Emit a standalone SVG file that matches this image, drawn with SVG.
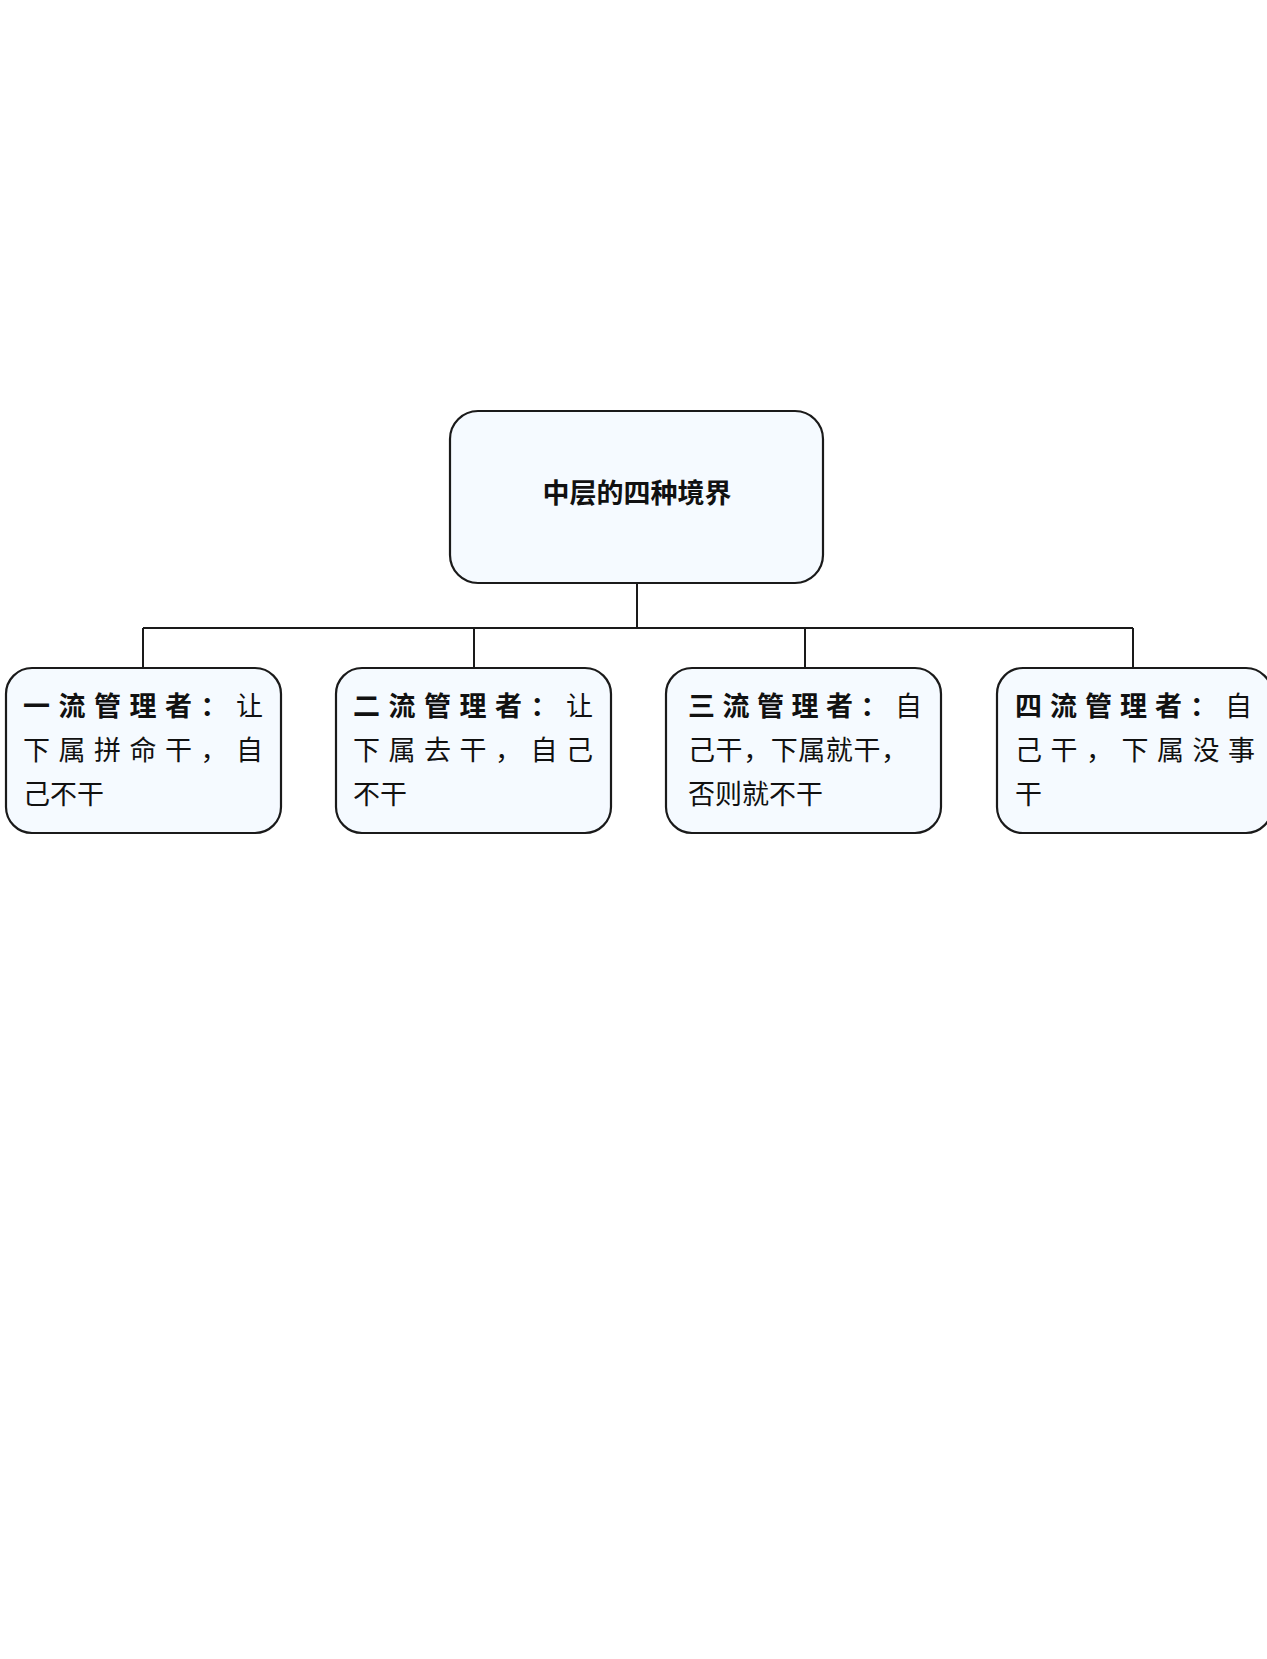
<svg xmlns="http://www.w3.org/2000/svg" width="1267" height="1659" viewBox="0 0 1267 1659">
<style>
.box{fill:#f5faff;stroke:#1a1a1a;stroke-width:2.2}
.t{font-family:"Noto Sans CJK SC","Noto Sans CJK JP",sans-serif;font-size:27px;fill:#111}
.b{font-weight:bold}
.c{fill:none;stroke:#1a1a1a;stroke-width:2}
</style>
<rect width="1267" height="1659" fill="#fff"/>
<g id="connectors">
<path class="c" d="M637 583V628M143 628H1133M143 628V668M474 628V668M805 628V668M1133 628V668"/>
</g>
<g id="root">
<rect class="box" x="450" y="411" width="373" height="172" rx="28"/>
<text class="t b" x="637" y="503" text-anchor="middle" font-size="29">中层的四种境界</text>
</g>
<g id="n1">
<rect class="box" x="6" y="668" width="275" height="165" rx="26"/>
<text class="t" x="23" y="716" textLength="240" lengthAdjust="spacing"><tspan class="b">一流管理者：</tspan>让</text>
<text class="t" x="23" y="760" textLength="240" lengthAdjust="spacing">下属拼命干，自</text>
<text class="t" x="23" y="804">己不干</text>
</g>
<g id="n2">
<rect class="box" x="336" y="668" width="275" height="165" rx="26"/>
<text class="t" x="353" y="716" textLength="240" lengthAdjust="spacing"><tspan class="b">二流管理者：</tspan>让</text>
<text class="t" x="353" y="760" textLength="240" lengthAdjust="spacing">下属去干，自己</text>
<text class="t" x="353" y="804">不干</text>
</g>
<g id="n3">
<rect class="box" x="666" y="668" width="275" height="165" rx="26"/>
<text class="t" x="688" y="716" textLength="234" lengthAdjust="spacing"><tspan class="b">三流管理者：</tspan>自</text>
<text class="t" x="688" y="760" textLength="220" lengthAdjust="spacing">己干，下属就干，</text>
<text class="t" x="688" y="804">否则就不干</text>
</g>
<g id="n4">
<rect class="box" x="997" y="668" width="275" height="165" rx="26"/>
<text class="t" x="1015" y="716" textLength="237" lengthAdjust="spacing"><tspan class="b">四流管理者：</tspan>自</text>
<text class="t" x="1015" y="760" textLength="240" lengthAdjust="spacing">己干，下属没事</text>
<text class="t" x="1015" y="804">干</text>
</g>
</svg>
